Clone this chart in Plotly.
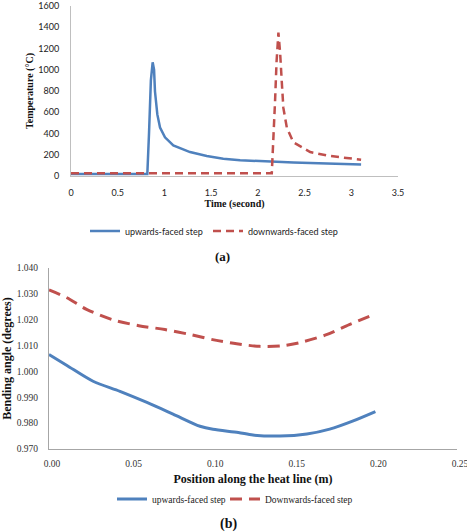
import plotly.graph_objects as go

# ---- Panel (a): temperature history ----
time_up = [0, 0.5, 0.817, 0.835, 0.855, 0.874, 0.889, 0.899, 0.912, 0.924, 0.953, 1.006, 1.095, 1.274, 1.453, 1.63, 1.81, 2.005, 2.38, 2.74, 3.105]
temp_up = [20, 20, 20, 400, 900, 1070, 1000, 795, 660, 580, 456, 364, 287, 225, 188, 163, 148, 139, 127, 117, 108]

time_dn = [0, 1.0, 2.0, 2.149, 2.184, 2.2, 2.22, 2.238, 2.256, 2.273, 2.31, 2.38, 2.56, 2.74, 2.915, 3.105]
temp_dn = [25, 25, 25, 25, 703, 1073, 1350, 1165, 888, 641, 456, 317, 225, 194, 173, 154]

# ---- Panel (b): bending angle ----
pos_up = [0, 0.011, 0.027, 0.0435, 0.060, 0.076, 0.0925, 0.1005, 0.116, 0.125, 0.1415, 0.158, 0.172, 0.186, 0.2]
ang_up = [1.0065, 1.0023, 0.9962, 0.9923, 0.9880, 0.9835, 0.9788, 0.9776, 0.9764, 0.9754, 0.9750, 0.9758, 0.9777, 0.9808, 0.9845]

pos_dn = [0, 0.011, 0.023, 0.039, 0.055, 0.071, 0.087, 0.101, 0.115, 0.129, 0.144, 0.156, 0.170, 0.184, 0.2]
ang_dn = [1.0315, 1.0285, 1.0240, 1.0200, 1.0177, 1.0162, 1.0142, 1.0122, 1.0107, 1.0097, 1.0100, 1.0115, 1.0142, 1.0181, 1.0222]

names_a = ["upwards-faced step", "downwards-faced step"]
names_b = ["upwards-faced step", "Downwards-faced step"]
ang_ticks = [0.970, 0.980, 0.990, 1.000, 1.010, 1.020, 1.030, 1.040]

BLUE = "#4F81BD"
RED = "#C0504D"
W, H = 467, 532
SANS = "Lato"
SERIF = "Liberation Serif"


def fx(p):
    return p / W


def fy(p):
    return 1 - p / H


fig = go.Figure()
fig.add_trace(go.Scatter(x=time_up, y=temp_up, mode="lines", name=names_a[0],
                         line=dict(color=BLUE, width=2.5), xaxis="x", yaxis="y", legend="legend"))
fig.add_trace(go.Scatter(x=time_dn, y=temp_dn, mode="lines", name=names_a[1],
                         line=dict(color=RED, width=2.5, dash="8px,5px"), xaxis="x", yaxis="y", legend="legend2"))
fig.add_trace(go.Scatter(x=pos_up, y=ang_up, mode="lines", name=names_b[0],
                         line=dict(color=BLUE, width=3, shape="spline", smoothing=0.8),
                         xaxis="x2", yaxis="y2", legend="legend3"))
fig.add_trace(go.Scatter(x=pos_dn, y=ang_dn, mode="lines", name=names_b[1],
                         line=dict(color=RED, width=3, dash="12px,7px", shape="spline", smoothing=0.8),
                         xaxis="x2", yaxis="y2", legend="legend4"))


def leg(xpx, ypx, family, size):
    return dict(orientation="h", x=fx(xpx), xanchor="left", y=fy(ypx), yanchor="middle",
                font=dict(family=family, size=size, color="#222"), bgcolor="rgba(0,0,0,0)",
                itemwidth=30)


fig.update_layout(
    width=W, height=H, margin=dict(l=0, r=0, t=0, b=0, autoexpand=False),
    paper_bgcolor="white", plot_bgcolor="white", showlegend=True,
    xaxis=dict(domain=[fx(71), fx(398)], anchor="y", range=[0, 3.5], dtick=0.5,
               showgrid=False, zeroline=False, showline=True, linecolor="#BFBFBF", linewidth=1,
               ticks="", ticklabelstandoff=8, automargin=False, ticklabeloverflow="allow",
               tickfont=dict(family=SANS, size=9, color="#222"),
               title=dict(text="<b>Time (second)</b>", font=dict(family=SERIF, size=10, color="#111"), standoff=2)),
    yaxis=dict(domain=[fy(176), fy(6)], anchor="x", range=[0, 1600], dtick=200,
               showgrid=False, zeroline=False, showline=True, linecolor="#BFBFBF", linewidth=1,
               ticks="", ticklabelstandoff=9, automargin=False, ticklabeloverflow="allow",
               tickfont=dict(family=SANS, size=9, color="#222"),
               title=dict(text="<b>Temperature (°C)</b>", font=dict(family=SERIF, size=10, color="#111"), standoff=2)),
    xaxis2=dict(domain=[fx(49), fx(457)], anchor="y2", range=[0, 0.25], dtick=0.05, tickformat=".2f",
                showgrid=False, zeroline=False, showline=True, linecolor="#A6A6A6", linewidth=1,
                ticks="", ticklabelstandoff=6, ticklabelshift=3, automargin=False, ticklabeloverflow="allow",
                tickfont=dict(family=SERIF, size=9.5, color="#333"),
                title=dict(text="<b>Position along the heat line (m)</b>", font=dict(family=SERIF, size=12, color="#111"), standoff=6)),
    yaxis2=dict(domain=[fy(449), fy(268)], anchor="x2", range=[0.970, 1.040], tickvals=ang_ticks, tickformat=".3f",
                showgrid=False, zeroline=False, showline=True, linecolor="#A6A6A6", linewidth=1,
                ticks="", ticklabelstandoff=8, automargin=False, ticklabeloverflow="allow",
                tickfont=dict(family=SERIF, size=9.5, color="#333"),
                title=dict(text="<b>Bending angle (degrees)</b>", font=dict(family=SERIF, size=12, color="#111"), standoff=6)),
    legend=leg(85, 231, SANS, 9),
    legend2=leg(208, 231, SANS, 9),
    legend3=leg(112, 499, SERIF, 9.5),
    legend4=leg(225, 499, SERIF, 9.5),
    annotations=[
        dict(text="<b>(a)</b>", x=fx(222), y=fy(257), xref="paper", yref="paper", showarrow=False,
             xanchor="center", yanchor="middle", font=dict(family=SERIF, size=13, color="#111")),
        dict(text="<b>(b)</b>", x=fx(228), y=fy(524), xref="paper", yref="paper", showarrow=False,
             xanchor="center", yanchor="middle", font=dict(family=SERIF, size=14, color="#111")),
    ],
)

fig.write_html("out.html")
